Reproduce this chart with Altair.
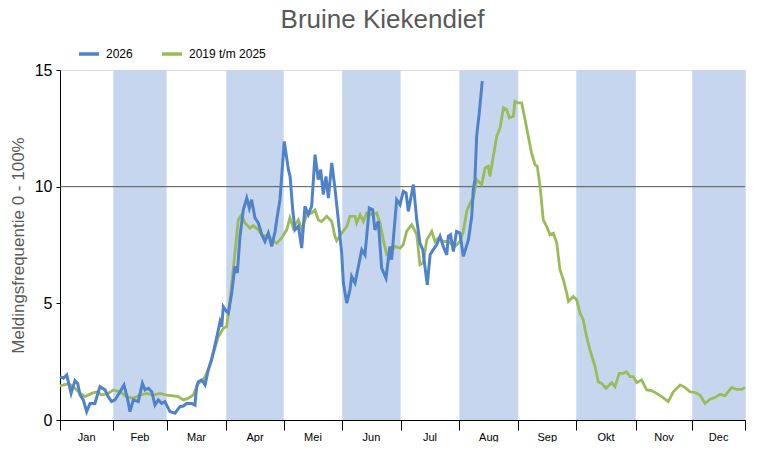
import altair as alt
import pandas as pd

# Month boundaries (in chart day units) and names
maand_grens = [0, 28.4, 56.8, 88.6, 119.2, 150.4, 181.5, 212.8, 244.2, 275.1, 306.8, 336.9, 365]
maanden = ["Jan", "Feb", "Mar", "Apr", "Mei", "Jun", "Jul", "Aug", "Sep", "Okt", "Nov", "Dec"]

# 2019 t/m 2025 (green)
groen_dag = [0, 4.4, 7.1, 9.8, 13.3, 16.9, 19.6, 22.2, 25.7, 28.4, 32.0, 35.5, 39.1, 42.6, 46.2, 49.7,
             53.3, 56.9, 60.4, 63.0, 65.7, 68.4, 71.0, 73.7, 76.4, 79.0, 81.7, 84.4, 87.0, 88.8, 90.6,
             92.3, 95.0, 96.8, 98.6, 101.2, 103.0, 105.7, 108.3, 111.0, 112.8, 115.5, 118.1, 120.8,
             122.5, 124.3, 127.0, 128.8, 131.5, 134.1, 135.9, 137.6, 139.4, 142.1, 144.8, 146.5, 147.4,
             150.1, 152.8, 154.5, 157.2, 158.1, 159.9, 161.6, 163.4, 166.1, 168.8, 170.5, 172.3, 174.1,
             175.8, 178.5, 181.2, 182.9, 184.7, 187.4, 190.1, 191.8, 193.6, 195.4, 198.1, 199.8, 201.6,
             204.2, 206.9, 210.5, 213.1, 214.9, 216.7, 218.5, 220.2, 222.0, 224.7, 226.5, 228.2, 229.1,
             230.9, 232.7, 234.5, 236.3, 238.0, 239.4, 241.6, 242.4, 244.2, 246.0, 247.8, 249.5, 251.3,
             253.1, 254.3, 255.8, 257.5, 259.3, 261.1, 262.9, 264.7, 266.4, 268.2, 270.0, 270.9, 273.5,
             275.3, 277.1, 278.8, 280.6, 282.4, 285.1, 286.8, 288.6, 290.9, 294.0, 295.7, 298.0, 300.2,
             301.9, 303.7, 305.5, 307.3, 309.9, 312.6, 315.3, 317.9, 320.6, 324.1, 326.8, 330.4, 333.0,
             335.7, 338.4, 341.0, 343.7, 346.4, 349.0, 351.7, 354.4, 357.9, 360.6, 363.2, 365.0]
groen_waarde = [1.46, 1.55, 1.43, 1.21, 1.0, 1.14, 1.21, 1.07, 1.14, 1.29, 1.21, 1.0, 0.93, 1.07, 1.14, 1.07,
                1.14, 1.07, 1.03, 1.0, 0.86, 0.93, 1.07, 1.57, 1.72, 2.15, 2.86, 3.57, 3.93, 4.0, 5.15,
                6.44, 8.58, 8.8, 8.44, 8.22, 8.33, 8.15, 7.87, 7.94, 7.72, 7.58, 7.8, 8.15,
                8.66, 8.22, 8.58, 8.15, 8.8, 8.87, 9.0, 8.58, 8.51, 8.73, 8.51, 7.87, 7.68,
                8.01, 8.3, 8.73, 8.73, 8.44, 8.8, 8.51, 8.87, 8.8, 8.87, 8.44, 7.72, 7.08,
                7.08, 7.44, 7.37, 7.51, 8.08, 8.37, 7.94, 6.65, 6.73, 7.72, 8.08, 7.65, 7.8,
                7.65, 7.65, 7.44, 7.65, 8.08, 8.94, 9.3, 9.5, 10.3, 10.09, 10.8, 10.87, 10.44,
                11.3, 12.16, 12.52, 13.38, 13.3, 12.95, 13.02, 13.66, 13.59, 13.59, 12.88, 12.16, 11.44,
                10.94, 10.87, 10.01, 8.58, 8.3, 7.94, 8.01, 7.58, 6.44, 6.01, 5.44, 5.08, 5.29,
                5.15, 4.58, 4.29, 3.57, 3.0, 2.29, 1.64, 1.57, 1.36, 1.6, 1.43, 2.0, 2.0,
                2.07, 1.86, 1.86, 1.6, 1.72, 1.29, 1.26, 1.14, 1.0, 0.79, 1.21, 1.5, 1.4,
                1.21, 1.17, 1.07, 0.71, 0.89, 0.96, 1.1, 1.04, 1.4, 1.31, 1.31, 1.4]

# 2026 (blue)
blauw_dag = [0, 1.8, 3.6, 5.9, 8.0, 9.4, 10.7, 12.4, 14.2, 16.0, 18.6, 21.3, 24.0, 25.7, 27.5, 29.3,
             32.0, 34.1, 36.1, 37.3, 39.1, 41.7, 43.9, 45.3, 47.1, 48.9, 50.6, 52.4, 54.2, 55.9, 58.6,
             61.3, 63.9, 65.7, 67.5, 70.2, 71.9, 72.8, 73.7, 75.5, 77.3, 79.0, 80.8, 82.6, 84.0, 85.3,
             86.2, 87.0, 88.8, 89.7, 91.5, 93.2, 94.5, 95.9, 97.7, 99.5, 100.9, 102.1, 103.9, 105.7,
             107.5, 109.2, 111.0, 112.8, 114.6, 115.5, 117.2, 119.5, 121.7, 122.6, 124.0, 125.2, 127.0,
             128.8, 130.5, 132.3, 134.1, 135.9, 137.6, 138.9, 140.3, 141.7, 143.0, 144.8, 146.5, 148.3,
             150.1, 151.0, 152.8, 154.5, 155.4, 157.2, 159.0, 160.8, 162.5, 164.8, 166.6, 167.8, 169.6,
             171.4, 173.7, 175.8, 176.7, 179.4, 181.2, 182.9, 184.4, 185.6, 188.3, 190.1, 191.8, 193.3,
             195.7, 197.2, 198.9, 200.7, 202.5, 204.2, 206.1, 206.9, 208.1, 209.6, 211.3, 213.1, 214.9,
             217.6, 219.4, 220.2, 221.1, 222.0, 223.4, 225.0]
blauw_waarde = [1.86, 1.79, 1.93, 1.14, 1.69, 1.57, 1.07, 0.86, 0.36, 0.71, 0.71, 1.43, 1.29, 1.0, 0.79, 0.86,
                1.21, 1.5, 0.86, 0.36, 0.86, 0.79, 1.57, 1.29, 1.36, 1.21, 0.64, 0.86, 0.71, 0.79, 0.36,
                0.29, 0.57, 0.6, 0.71, 0.71, 0.64, 1.43, 1.64, 1.72, 1.5, 2.15, 2.58, 3.22, 3.72, 4.22,
                4.0, 4.86, 4.65, 4.58, 5.44, 6.58, 6.3, 7.87, 9.01, 9.51, 9.08, 9.44, 8.66, 8.44,
                7.94, 7.65, 8.01, 7.44, 8.08, 8.58, 9.44, 11.94, 10.73, 10.44, 9.01, 8.15, 8.3,
                7.37, 9.16, 8.8, 9.16, 11.37, 10.3, 10.73, 9.66, 10.44, 9.51, 11.02, 9.94, 8.58,
                7.15, 5.87, 5.01, 5.58, 6.15, 5.87, 6.58, 7.3, 7.08, 9.08, 9.01, 8.15, 8.51,
                6.51, 6.08, 7.44, 6.87, 9.44, 9.23, 9.8, 9.73, 8.94, 10.09, 8.58, 7.58, 7.3,
                5.79, 7.08, 7.3, 7.51, 7.87, 7.44, 7.08, 7.87, 7.94, 7.22, 8.08, 8.01, 7.01,
                7.72, 8.73, 9.87, 10.3, 12.16, 13.16, 14.52]

reeksen = ["2026", "2019 t/m 2025"]
kleuren = ["#4F82CB", "#9BBB59"]
band_kleur = "#C6D6EE"

df_groen = pd.DataFrame({"dag": groen_dag, "waarde": groen_waarde, "reeks": reeksen[1]})
df_blauw = pd.DataFrame({"dag": blauw_dag, "waarde": blauw_waarde, "reeks": reeksen[0]})

df_band = pd.DataFrame({
    "start": [maand_grens[i] for i in range(1, 12, 2)],
    "eind": [maand_grens[i + 1] for i in range(1, 12, 2)],
})
df_label = pd.DataFrame({
    "midden": [(maand_grens[i] + maand_grens[i + 1]) / 2 for i in range(12)],
    "maand": maanden,
})

FONT = "Liberation Sans"

x_scale = alt.Scale(domain=[0, 365], nice=False, zero=False)
y_scale = alt.Scale(domain=[0, 15], nice=False)

x_axis = alt.Axis(values=maand_grens, labels=False, tickSize=10, tickColor="black",
                  domainColor="black", grid=False, title=None, tickWidth=1)
y_axis = alt.Axis(values=[0, 5, 10, 15], grid=False, tickSize=4, tickColor="black",
                  domainColor="black", labelFontSize=16, labelColor="black", labelFont=FONT,
                  labelPadding=4, title="Meldingsfrequentie 0 - 100%", titleFont=FONT,
                  titleFontSize=17, titleFontWeight="normal", titleColor="#595959", titlePadding=7)

bands = alt.Chart(df_band).mark_rect(color=band_kleur).encode(
    x=alt.X("start:Q", scale=x_scale, axis=x_axis),
    x2="eind:Q",
    y=alt.value(0),
    y2=alt.value(350),
)

grid10 = alt.Chart(pd.DataFrame({"y": [10]})).mark_rule(color="#555555", strokeWidth=1).encode(
    y=alt.Y("y:Q", scale=y_scale, axis=y_axis)
)

kleur = alt.Color("reeks:N", scale=alt.Scale(domain=reeksen, range=kleuren),
                  legend=alt.Legend(title=None, orient="none", legendX=17, legendY=-28,
                                    direction="horizontal", symbolType="stroke",
                                    symbolSize=400, symbolStrokeWidth=3.5,
                                    labelFontSize=12, labelFont=FONT, labelColor="black",
                                    labelOffset=5, columnPadding=22))

groen = alt.Chart(df_groen).mark_line(strokeWidth=2.8, interpolate="linear").encode(
    x=alt.X("dag:Q", scale=x_scale),
    y=alt.Y("waarde:Q", scale=y_scale),
    color=kleur,
)
blauw = alt.Chart(df_blauw).mark_line(strokeWidth=3, interpolate="linear").encode(
    x=alt.X("dag:Q", scale=x_scale),
    y=alt.Y("waarde:Q", scale=y_scale),
    color=kleur,
)

labels = alt.Chart(df_label).mark_text(fontSize=11, font=FONT, color="black", baseline="middle").encode(
    x=alt.X("midden:Q", scale=x_scale),
    y=alt.value(368),
    text="maand:N",
)

chart = alt.layer(bands, grid10, groen, blauw, labels).properties(
    width=685,
    height=350,
    autosize=alt.AutoSizeParams(type="none"),
    padding={"left": 52, "top": 62, "right": 12, "bottom": 22},
    title=alt.TitleParams("Bruine Kiekendief", fontSize=26, font=FONT, color="#595959",
                          fontWeight="normal", anchor="middle", dx=-20, offset=9),
).configure_view(stroke="black", strokeWidth=1).configure(background="white")

chart.save("out.html", embed_options={"renderer": "svg", "actions": False})
